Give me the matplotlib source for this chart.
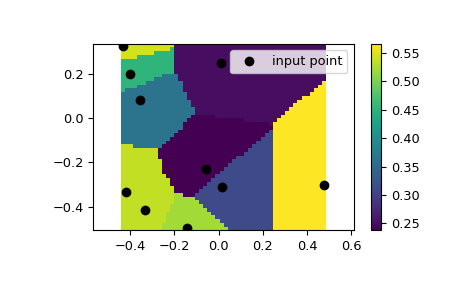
import numpy as np
import matplotlib
matplotlib.use("Agg")
import matplotlib.pyplot as plt
from matplotlib.ticker import MultipleLocator

# input points
x = [-0.432, -0.403, -0.354, -0.056, 0.014, -0.418, -0.335, -0.145, 0.009, 0.478]
y = [0.329, 0.202, 0.081, -0.231, -0.312, -0.335, -0.416, -0.499, 0.249, -0.303]
z = [0.543, 0.451, 0.363, 0.238, 0.312, 0.536, 0.534, 0.520, 0.249, 0.566]

plt.rcParams['font.size'] = 9.3

px = np.array(x)
py = np.array(y)
pz = np.array(z)

X = np.linspace(px.min(), px.max())
Y = np.linspace(py.min(), py.max())
X, Y = np.meshgrid(X, Y)

# nearest-neighbour lookup on the grid
d = (X[..., None] - px) ** 2 + (Y[..., None] - py) ** 2
Z = pz[np.argmin(d, axis=-1)]

fig = plt.figure(figsize=(4.65, 2.88), dpi=100)
ax = fig.add_axes([0.2006, 0.2003, 0.5606, 0.648])
cax = fig.add_axes([0.798, 0.2003, 0.0215, 0.648])

mesh = ax.pcolormesh(X, Y, Z, shading='auto')
ax.plot(px, py, "ok", label="input point")
ax.legend(loc="upper right")
cb = fig.colorbar(mesh, cax=cax)
cb.ax.yaxis.set_major_locator(MultipleLocator(0.05))
ax.axis("equal")
ax.xaxis.set_major_locator(MultipleLocator(0.2))
ax.yaxis.set_major_locator(MultipleLocator(0.2))

fig.savefig("out.png", dpi=100)
